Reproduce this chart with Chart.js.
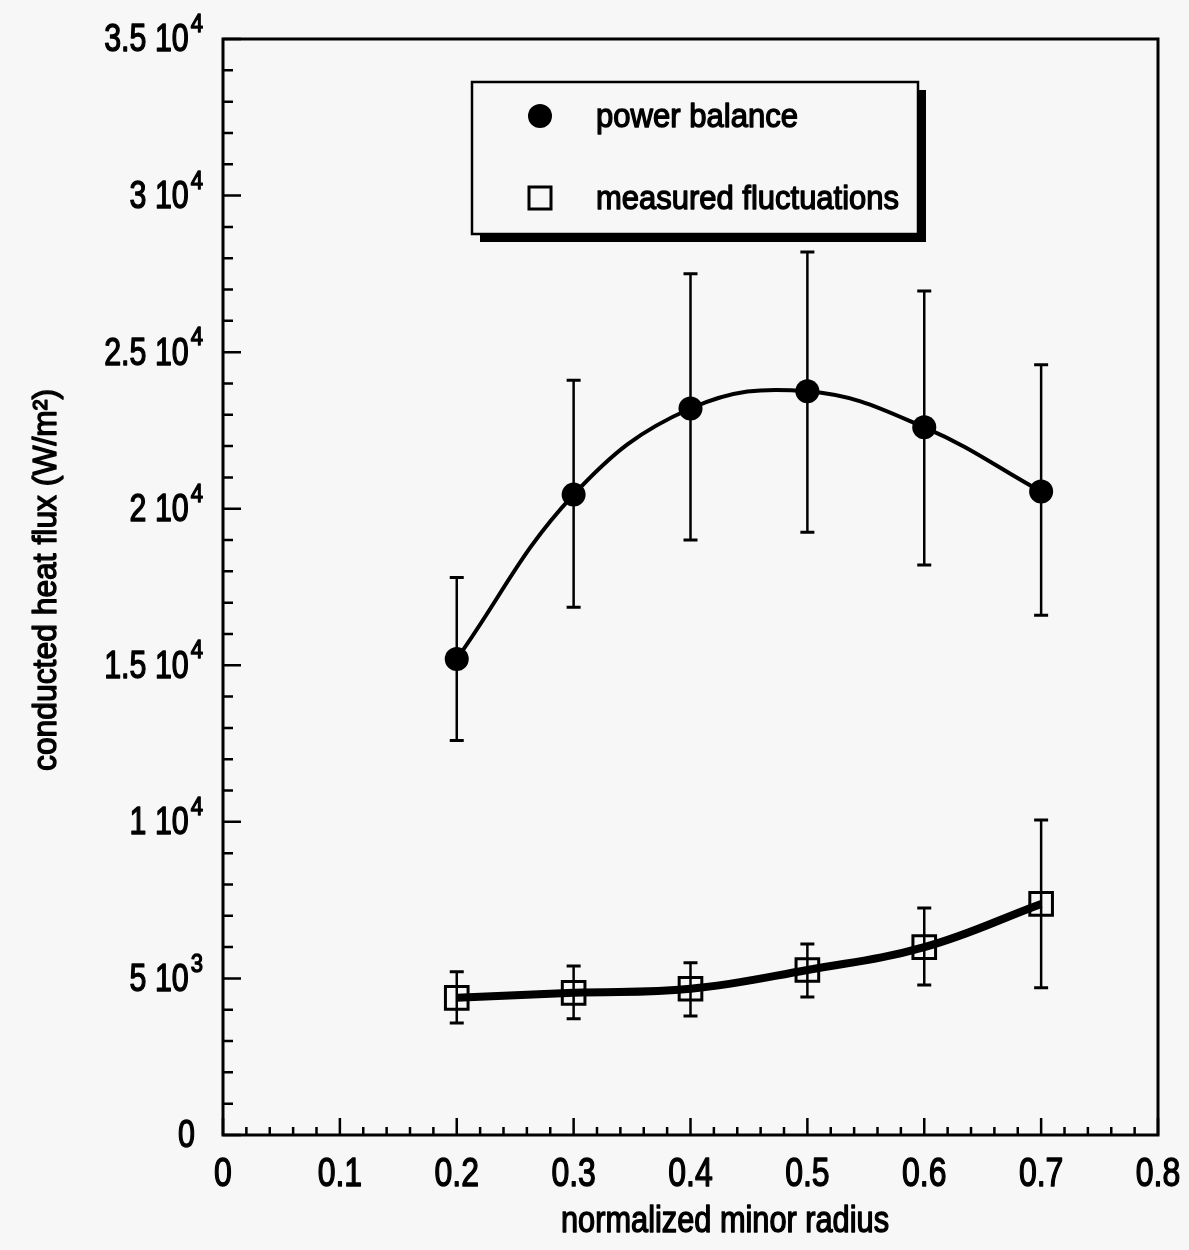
<!DOCTYPE html>
<html>
<head>
<meta charset="utf-8">
<script src="https://cdn.jsdelivr.net/npm/chart.js@4.4.1/dist/chart.umd.min.js"></script>
<style>
  html, body { margin: 0; padding: 0; background: #f7f7f7; }
  #wrap { width: 1189px; height: 1250px; }
</style>
</head>
<body>
<div id="wrap"><canvas id="myChart" width="1189" height="1250"></canvas></div>
<script>
// Dữ liệu
const radius = [0.2, 0.3, 0.4, 0.5, 0.6, 0.7];
const powerBalance = [15200, 20450, 23200, 23750, 22600, 20550];
const powerLow = [12600, 16850, 19000, 19250, 18200, 16600];
const powerHigh = [17800, 24100, 27500, 28200, 26950, 24600];
const fluctuations = [4380, 4540, 4670, 5270, 6000, 7380];
const fluctLow = [3580, 3710, 3800, 4410, 4790, 4700];
const fluctHigh = [5210, 5400, 5500, 6100, 7250, 10060];

const xTicks = [0, 0.1, 0.2, 0.3, 0.4, 0.5, 0.6, 0.7, 0.8];
const xTickLabels = ['0', '0.1', '0.2', '0.3', '0.4', '0.5', '0.6', '0.7', '0.8'];
const yTicks = [0, 5000, 10000, 15000, 20000, 25000, 30000, 35000];
const yTickMantissa = ['0', '5', '1', '1.5', '2', '2.5', '3', '3.5'];
const yTickExponent = ['', '3', '4', '4', '4', '4', '4', '4'];

const FONT = "'Liberation Sans', Arial, sans-serif";

// Viết chữ hẹp (giống Arial Narrow); nếu có fitW thì co giãn cho vừa bề rộng
function drawText(ctx, str, x, y, size, align, sx, fitW) {
  ctx.save();
  ctx.font = size + 'px ' + FONT;
  ctx.textAlign = align;
  ctx.textBaseline = 'middle';
  if (fitW) sx = fitW / ctx.measureText(str).width;
  ctx.translate(x, y);
  ctx.scale(sx, 1);
  ctx.lineWidth = 1.4;
  ctx.lineJoin = 'round';
  ctx.fillText(str, 0, 0);
  ctx.strokeText(str, 0, 0);
  ctx.restore();
  ctx.font = size + 'px ' + FONT;
  return ctx.measureText(str).width * sx;
}

// Vẽ thanh sai số
const errorBars = {
  id: 'errorBars',
  beforeDatasetsDraw(chart) {
    const ctx = chart.ctx;
    const xs = chart.scales.x, ys = chart.scales.y;
    const sets = [[powerLow, powerHigh], [fluctLow, fluctHigh]];
    ctx.save();
    ctx.strokeStyle = '#000';
    sets.forEach(([lo, hi]) => {
      radius.forEach((r, i) => {
        const x = xs.getPixelForValue(r);
        const y1 = ys.getPixelForValue(lo[i]);
        const y2 = ys.getPixelForValue(hi[i]);
        ctx.lineWidth = 2.5;
        ctx.beginPath();
        ctx.moveTo(x, y1); ctx.lineTo(x, y2);
        ctx.stroke();
        ctx.lineWidth = 3;
        ctx.beginPath();
        ctx.moveTo(x - 7, y1); ctx.lineTo(x + 7, y1);
        ctx.moveTo(x - 7, y2); ctx.lineTo(x + 7, y2);
        ctx.stroke();
      });
    });
    ctx.restore();
  }
};

// Khung, vạch chia, nhãn và chú thích
const frame = {
  id: 'frame',
  afterDraw(chart) {
    const ctx = chart.ctx;
    const a = chart.chartArea;
    const xs = chart.scales.x, ys = chart.scales.y;
    ctx.save();
    ctx.strokeStyle = '#000';
    ctx.fillStyle = '#000';

    // khung
    ctx.lineWidth = 3;
    ctx.strokeRect(a.left, a.top, a.right - a.left, a.bottom - a.top);

    // vạch chia trục x
    ctx.lineWidth = 2.5;
    ctx.beginPath();
    for (let v = 0; v <= 0.8001; v += 0.02) {
      const x = xs.getPixelForValue(v);
      const major = Math.abs(v * 10 - Math.round(v * 10)) < 1e-6;
      ctx.moveTo(x, a.bottom);
      ctx.lineTo(x, a.bottom - (major ? 17 : 8));
    }
    // vạch chia trục y
    for (let v = 0; v <= 35000; v += 1000) {
      const y = ys.getPixelForValue(v);
      const major = v % 5000 === 0;
      ctx.moveTo(a.left, y);
      ctx.lineTo(a.left + (major ? 18 : 10), y);
    }
    ctx.stroke();

    // nhãn trục x
    xTicks.forEach((v, i) => {
      drawText(ctx, xTickLabels[i], xs.getPixelForValue(v), a.bottom + 40, 40, 'center', 0.8);
    });

    // nhãn trục y có số mũ
    yTicks.forEach((v, i) => {
      const y = ys.getPixelForValue(v);
      let right = a.left - 20;
      if (yTickExponent[i]) {
        right -= drawText(ctx, yTickExponent[i], right, y - 14, 26, 'right', 0.85) + 2;
        drawText(ctx, yTickMantissa[i] + ' 10', right, y + 2, 38, 'right', 0.8);
      } else {
        drawText(ctx, yTickMantissa[i], right - 8, y + 2, 38, 'right', 0.8);
      }
    });

    // tiêu đề trục
    drawText(ctx, 'normalized minor radius', 725, 1222, 36, 'center', 1, 328);
    ctx.save();
    ctx.translate(47, 580);
    ctx.rotate(-Math.PI / 2);
    drawText(ctx, 'conducted heat flux (W/m²)', 0, 0, 34, 'center', 1, 382);
    ctx.restore();

    // chú thích có bóng
    const bx = 472, by = 82, bw = 446, bh = 152;
    ctx.fillRect(bx + 8, by + 8, bw, bh);
    ctx.fillStyle = '#f7f7f7';
    ctx.fillRect(bx, by, bw, bh);
    ctx.fillStyle = '#000';
    ctx.lineWidth = 2.5;
    ctx.strokeRect(bx, by, bw, bh);
    ctx.beginPath();
    ctx.arc(540, 116, 12, 0, Math.PI * 2);
    ctx.fill();
    ctx.lineWidth = 3;
    ctx.strokeRect(529, 187, 22, 22);
    drawText(ctx, chart.data.datasets[0].label, 596, 118, 34, 'left', 1, 202);
    drawText(ctx, chart.data.datasets[1].label, 596, 200, 34, 'left', 1, 303);
    ctx.restore();
  }
};

var ctx = document.getElementById('myChart').getContext('2d');
var myChart = new Chart(ctx, {
  type: 'line',
  data: {
    datasets: [{
      label: 'power balance',
      data: radius.map((r, i) => ({ x: r, y: powerBalance[i] })),
      borderColor: '#000',
      backgroundColor: '#000',
      borderWidth: 4,
      tension: 0.4,
      pointStyle: 'circle',
      pointRadius: 12,
      pointBorderWidth: 0
    }, {
      label: 'measured fluctuations',
      data: radius.map((r, i) => ({ x: r, y: fluctuations[i] })),
      borderColor: '#000',
      backgroundColor: 'rgba(0,0,0,0)',
      borderWidth: 8,
      tension: 0.4,
      pointStyle: 'rect',
      pointRadius: 16,
      pointBorderWidth: 3
    }]
  },
  options: {
    responsive: false,
    animation: false,
    layout: { padding: { top: 39, right: 31, left: 0, bottom: 0 } },
    plugins: { legend: { display: false }, tooltip: { enabled: false } },
    scales: {
      x: {
        type: 'linear', min: 0, max: 0.8,
        grid: { display: false }, border: { display: false },
        ticks: { display: false },
        afterFit: s => { s.height = 115; }
      },
      y: {
        min: 0, max: 35000,
        grid: { display: false }, border: { display: false },
        ticks: { display: false },
        afterFit: s => { s.width = 223; }
      }
    }
  },
  plugins: [errorBars, frame]
});
</script>
</body>
</html>
